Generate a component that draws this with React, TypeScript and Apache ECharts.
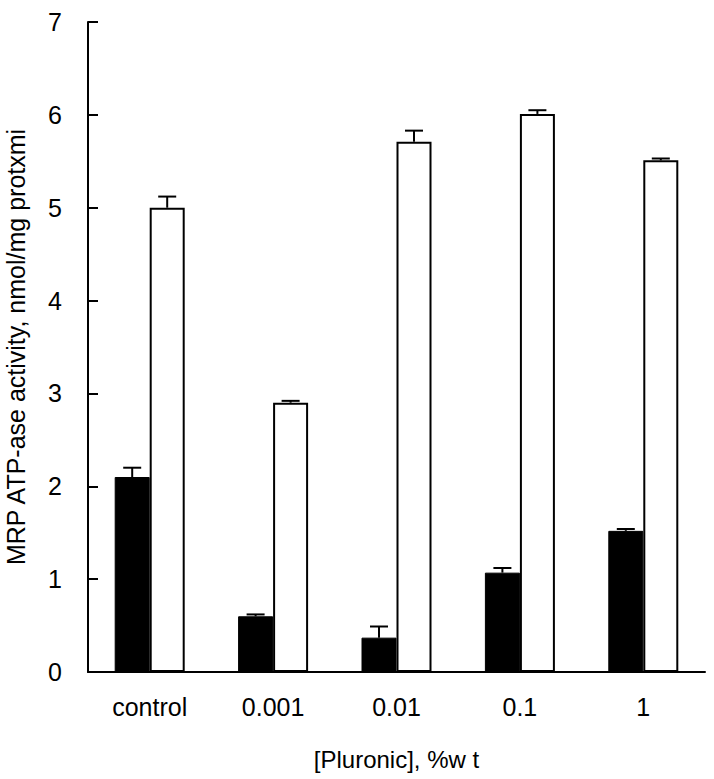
import React, { useEffect, useRef } from "react";
import * as echarts from "echarts";

const categories = ["control", "0.001", "0.01", "0.1", "1"];
const blackValues = [2.1, 0.6, 0.37, 1.07, 1.52];
const blackErrors = [0.1, 0.02, 0.12, 0.05, 0.02];
const whiteValues = [5.0, 2.9, 5.71, 6.01, 5.51];
const whiteErrors = [0.12, 0.02, 0.12, 0.04, 0.02];
const yTicks = [0, 1, 2, 3, 4, 5, 6, 7];

const FONT = "Liberation Sans, Arial, sans-serif";
const BAR_W = 35;

function errorSeries(values: number[], errors: number[], offset: number) {
  return {
    type: "custom",
    z: 10,
    silent: true,
    data: categories.map((_, i) => [i, values[i], errors[i]]),
    renderItem: (_params: any, api: any) => {
      const idx = api.value(0);
      const v = api.value(1);
      const e = api.value(2);
      const base = api.coord([idx, v]);
      const top = api.coord([idx, v + e]);
      const x = base[0] + offset;
      return {
        type: "group",
        children: [
          {
            type: "line",
            shape: { x1: x, y1: base[1], x2: x, y2: top[1] },
            style: { stroke: "#000", lineWidth: 2 },
          },
          {
            type: "line",
            shape: { x1: x - 9, y1: top[1], x2: x + 9, y2: top[1] },
            style: { stroke: "#000", lineWidth: 2 },
          },
        ],
      };
    },
  };
}

export default function App() {
  const ref = useRef<HTMLDivElement>(null);
  useEffect(() => {
    if (!ref.current) return;
    const chart = echarts.init(ref.current, undefined, { renderer: "svg" });
    chart.setOption({
      animation: false,
      backgroundColor: "#fff",
      grid: {
        left: 88,
        right: 9,
        top: 22,
        bottom: 107,
        containLabel: false,
        outerBoundsMode: "none",
      },
      xAxis: {
        type: "category",
        data: categories,
        axisLine: { lineStyle: { color: "#000", width: 2 } },
        axisTick: { show: false },
        axisLabel: { color: "#000", fontSize: 25, fontFamily: FONT, margin: 22 },
        name: "[Pluronic], %w t",
        nameLocation: "middle",
        nameGap: 75,
        nameTextStyle: { color: "#000", fontSize: 24, fontFamily: FONT },
      },
      yAxis: {
        type: "value",
        min: yTicks[0],
        max: yTicks[yTicks.length - 1],
        interval: 1,
        splitLine: { show: false },
        axisLine: { show: true, lineStyle: { color: "#000", width: 2 } },
        axisTick: { show: true, inside: true, length: 10, lineStyle: { color: "#000", width: 2 } },
        axisLabel: { color: "#000", fontSize: 25, fontFamily: FONT, margin: 26 },
        name: "MRP ATP-ase activity, nmol/mg protxmi",
        nameLocation: "middle",
        nameGap: 60,
        nameTextStyle: { color: "#000", fontSize: 25, fontFamily: FONT },
      },
      series: [
        {
          type: "bar",
          data: blackValues,
          barWidth: BAR_W,
          barGap: "0%",
          itemStyle: { color: "#000", borderColor: "#000", borderWidth: 1 },
        },
        {
          type: "bar",
          data: whiteValues,
          barWidth: BAR_W,
          barGap: "0%",
          itemStyle: { color: "#fff", borderColor: "#000", borderWidth: 2 },
        },
        errorSeries(blackValues, blackErrors, -BAR_W / 2),
        errorSeries(whiteValues, whiteErrors, BAR_W / 2),
      ],
    });
    return () => chart.dispose();
  }, []);
  return (
    <div
      ref={ref}
      style={{ position: "fixed", left: 0, top: 0, width: 714, height: 779 }}
    />
  );
}
